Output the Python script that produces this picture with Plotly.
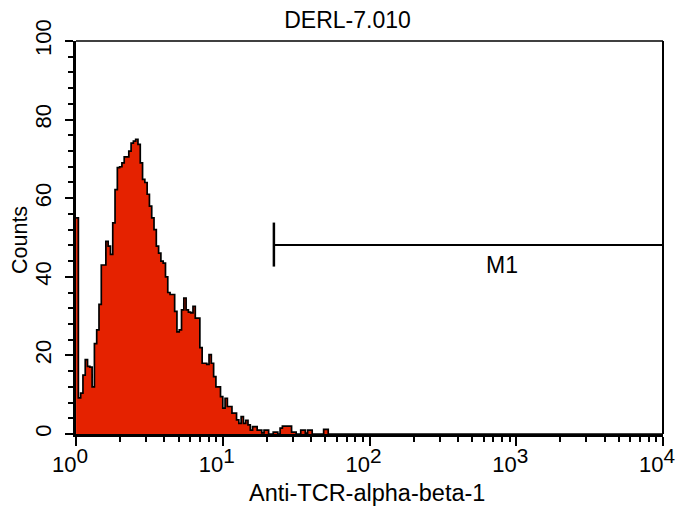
import numpy as np
import plotly.graph_objects as go

# ---- text ----
title_text = "DERL-7.010"
x_label = "Anti-TCR-alpha-beta-1"
y_label = "Counts"
marker_label = "M1"

# ---- histogram: 256 channels spanning 4 log decades ----
n_channels = 256
n_decades = 4
# counts read per channel (channel 0 upward); channels not listed are 0
counts_head = [
    55, 9.2, 10.4, 15, 18.9, 17.2, 17, 12, 23, 26.5,
    33, 43, 43, 49, 47.8, 45.7, 53.7, 62.2, 67.8, 68,
    69, 70.5, 70.5, 72, 74, 74.5, 75, 73.7, 69, 64.8,
    64, 61, 58, 55, 52, 47.8, 46, 44, 43.5, 40,
    36, 35.5, 35.5, 31.2, 26, 26.5, 31.6, 34.6, 31.6, 31,
    30.8, 32.5, 29.5, 29.5, 22, 18, 18, 17.7, 20.2, 18,
    14.6, 12, 12, 9.5, 6.6, 9.1, 7, 7, 5.3, 5.3,
    3.6, 2.7, 4.4, 2.7, 3.5, 2.3, 1, 1.9, 1.9, 1,
    1, 0.3, 1, 1, 0, 0, 0.5, 0.5, 0, 1.5,
    2, 2, 2, 2, 0.5, 0.5, 0, 0, 1, 1,
    0.2, 1, 1, 0, 0, 0, 0, 0, 1.2, 1.2,
]

# ---- M1 marker (gate) ----
m1_start = 22.3
m1_end = 10000
m1_level = 48.1
m1_tick_low = 42.6
m1_tick_high = 53.8
m1_label_x = 800
m1_label_y = 43

# ---- axis ticks ----
x_tick_vals = [1, 10, 100, 1000, 10000]
x_tick_exps = ["0", "1", "2", "3", "4"]
y_tick_vals = [0, 20, 40, 60, 80, 100]

counts = np.zeros(n_channels)
counts[:len(counts_head)] = counts_head
edges = 10 ** (np.arange(n_channels + 1) * n_decades / n_channels)
y_step = np.append(counts, counts[-1])

FONT = "Liberation Sans, Arial, Helvetica, sans-serif"
FS_TICK = 22

fig = go.Figure()
fig.add_trace(go.Scatter(
    x=edges, y=y_step, mode="lines",
    line=dict(color="black", width=1.7, shape="hv"),
    fill="tozeroy", fillcolor="rgb(229,34,0)",
    hoverinfo="skip",
))
fig.add_trace(go.Scatter(
    x=[m1_start, m1_end], y=[m1_level, m1_level], mode="lines",
    line=dict(color="black", width=2), hoverinfo="skip",
))
fig.add_trace(go.Scatter(
    x=[m1_start, m1_start], y=[m1_tick_low, m1_tick_high], mode="lines",
    line=dict(color="black", width=2.5), hoverinfo="skip",
))
fig.add_annotation(x=np.log10(m1_label_x), y=m1_label_y, text=marker_label,
                   showarrow=False, font=dict(family=FONT, size=23, color="black"),
                   xanchor="center", yanchor="middle")

# axis titles as annotations (paper coords)
fig.add_annotation(xref="paper", yref="paper", x=0.4957, y=-0.150, text=x_label,
                   showarrow=False, font=dict(family=FONT, size=23.5, color="black"),
                   xanchor="center", yanchor="middle")
fig.add_annotation(xref="paper", yref="paper", x=-0.0954, y=0.4936, text=y_label,
                   textangle=-90, showarrow=False,
                   font=dict(family=FONT, size=21.5, color="black"),
                   xanchor="center", yanchor="middle")

minor_vals = [m * 10 ** d for d in range(n_decades) for m in range(2, 10)]
tick_text = ['10<sup><span style="font-size:135%%">%s</span></sup>' % e for e in x_tick_exps]

fig.update_layout(
    width=679, height=509,
    margin=dict(l=76, r=16, t=41, b=75),
    paper_bgcolor="white", plot_bgcolor="white",
    showlegend=False,
    font=dict(family=FONT, size=FS_TICK, color="black"),
    title=dict(text=title_text, x=347.5 / 679, xanchor="center",
               y=1 - 20 / 509, yanchor="middle",
               font=dict(family=FONT, size=23, color="black")),
    xaxis=dict(
        type="log", range=[-0.0005, n_decades + 0.0005], automargin=False,
        tickmode="array", tickvals=x_tick_vals, ticktext=tick_text,
        ticks="outside", ticklen=9, tickwidth=2, tickcolor="black",
        showline=True, linewidth=3, linecolor="black",
        showgrid=False, zeroline=False,
        ticklabeloverflow="allow", ticklabelshift=-6,
        minor=dict(tickmode="array", tickvals=minor_vals, ticks="outside",
                   ticklen=5, tickwidth=2, tickcolor="black", showgrid=False),
        tickfont=dict(family=FONT, size=FS_TICK, color="black"),
    ),
    yaxis=dict(
        range=[0, 100], automargin=False,
        tickmode="array", tickvals=y_tick_vals, tickangle=-90,
        ticks="outside", ticklen=8, tickwidth=2, tickcolor="black",
        showline=True, linewidth=3, linecolor="black",
        showgrid=False, zeroline=False,
        minor=dict(dtick=4, ticks="outside", ticklen=5, tickwidth=2,
                   tickcolor="black", showgrid=False),
        tickfont=dict(family=FONT, size=FS_TICK, color="black"),
        ticklabelstandoff=5,
    ),
    shapes=[
        dict(type="line", xref="paper", yref="paper", x0=0, x1=1, y0=1, y1=1,
             line=dict(color="black", width=1.5)),
        dict(type="line", xref="paper", yref="paper", x0=1, x1=1, y0=0, y1=1,
             line=dict(color="black", width=2)),
    ],
)

fig.write_html(
    "out.html",
    config={"displayModeBar": False},
    post_script="document.body.style.margin='0';document.body.style.overflow='hidden';",
)
